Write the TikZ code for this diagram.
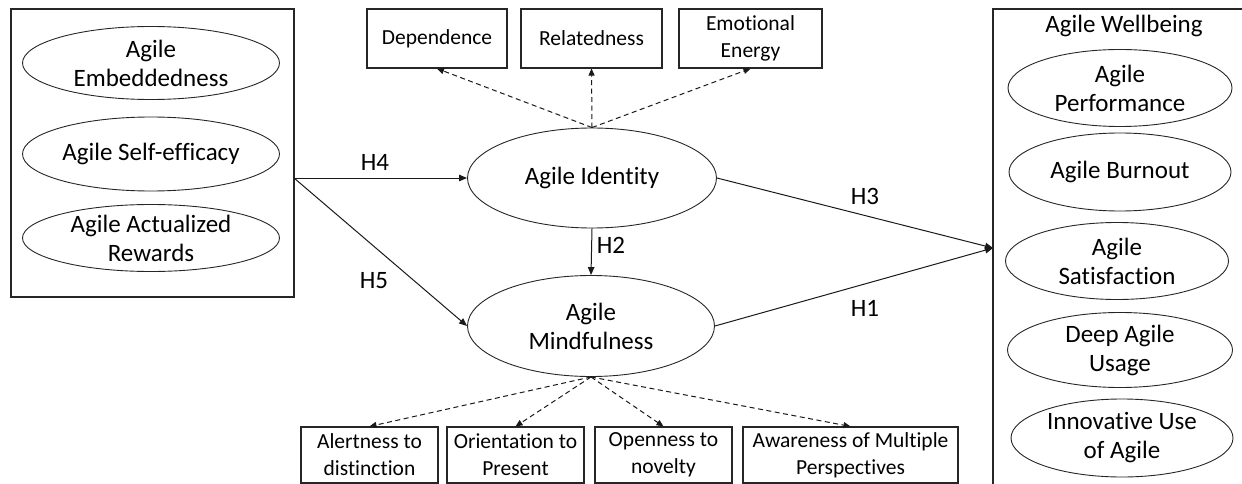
\documentclass[tikz,border=0pt]{standalone}
\usepackage{fontspec}
\setmainfont{Carlito}[Ligatures=NoCommon]
\usetikzlibrary{shapes.geometric,arrows.meta}
\begin{document}
\begin{tikzpicture}[x=1pt,y=-1pt,
  lat/.style={ellipse,draw=black!85,line width=0.9pt,inner sep=0pt,align=center,font=\fontsize{25}{29}\selectfont},
  ind/.style={rectangle,draw=black!85,line width=1.1pt,inner sep=0pt,align=center,font=\fontsize{21.5}{27}\selectfont},
  grp/.style={draw=black!85,line width=1.1pt},
  hyp/.style={draw=black!90,line width=1pt,-{Triangle[length=8pt,width=6.5pt]}},
  dsh/.style={draw=black!90,line width=1pt,dash pattern=on 5pt off 3.5pt,-{Triangle[length=7pt,width=6pt]}},
  lbl/.style={font=\fontsize{25}{29}\selectfont,inner sep=0pt}
]
\useasboundingbox (0,0) rectangle (1242,484);

% left group box
\draw[grp] (11,9) rectangle (294,297);
\node[lat,minimum width=257,minimum height=73] (emb) at (151,63) {Agile\\Embeddedness};
\node[lat,minimum width=257,minimum height=74] (self) at (151,154) {Agile Self-efficacy};
\node[lat,minimum width=257,minimum height=67] (act) at (151,238) {Agile Actualized\\Rewards};
\coordinate (src) at (294,178);

% right group box (cut by the page edge)
\coordinate (rbtr) at (1244,9);
\coordinate (rbtl) at (993,9);
\coordinate (rbbl) at (993,486);
\draw[grp] (rbtr) -- (rbtl) -- (rbbl);
\node[lbl,anchor=base] (wb) at (1124,33) {Agile Wellbeing};
\node[lat,minimum width=224,minimum height=77] (perf) at (1120,88) {Agile\\Performance};
\node[lat,minimum width=222,minimum height=78] (burn) at (1120,172) {Agile Burnout};
\node[lat,minimum width=223,minimum height=77] (sat) at (1117,261) {Agile\\Satisfaction};
\node[lat,minimum width=225,minimum height=75] (deep) at (1120,350) {Deep Agile\\Usage};
\node[lat,minimum width=222,minimum height=78] (innov) at (1122,438) {Innovative Use\\of Agile};
\coordinate (tip) at (993,248);

% central constructs
\node[lat,minimum width=249,minimum height=100] (id) at (592,178) {Agile Identity};
\node[lat,minimum width=247,minimum height=101] (mind) at (591,326) {Agile\\Mindfulness};

% top indicators
\node[ind,minimum width=140,minimum height=59] (dep) at (437,38.5) {Dependence};
\node[ind,minimum width=141,minimum height=59] (rel) at (591.5,38.5) {Relatedness};
\node[ind,minimum width=143,minimum height=59] (emo) at (750.5,38.5) {Emotional\\Energy};

% bottom indicators
\node[ind,minimum width=137,minimum height=56] (alert) at (369.5,455) {Alertness to\\distinction};
\node[ind,minimum width=137,minimum height=56] (orient) at (515.5,455) {Orientation to\\Present};
\node[ind,minimum width=137,minimum height=56] (open) at (663.5,455) {Openness to\\novelty};
\node[ind,minimum width=215,minimum height=56] (aware) at (850.5,455) {Awareness of Multiple\\Perspectives};

% hypotheses
\draw[hyp] (src) -- (id.west);
\draw[hyp] (src) -- (mind.west);
\draw[hyp] (id.south) -- (mind.north);
\draw[hyp] (id.east) -- (tip);
\draw[hyp] (mind.east) -- (tip);

\node[lbl] (h4) at (375,162) {H4};
\node[lbl] (h5) at (374,281) {H5};
\node[lbl] (h2) at (611,245) {H2};
\node[lbl] (h3) at (865,196) {H3};
\node[lbl] (h1) at (865,308) {H1};

% dashed indicator links
\draw[dsh] (id.north) -- (dep.south);
\draw[dsh] (id.north) -- (rel.south);
\draw[dsh] (id.north) -- (emo.south);
\draw[dsh] (mind.south) -- (alert.north);
\draw[dsh] (mind.south) -- (orient.north);
\draw[dsh] (mind.south) -- (open.north);
\draw[dsh] (mind.south) -- (aware.north);
\end{tikzpicture}
\end{document}
